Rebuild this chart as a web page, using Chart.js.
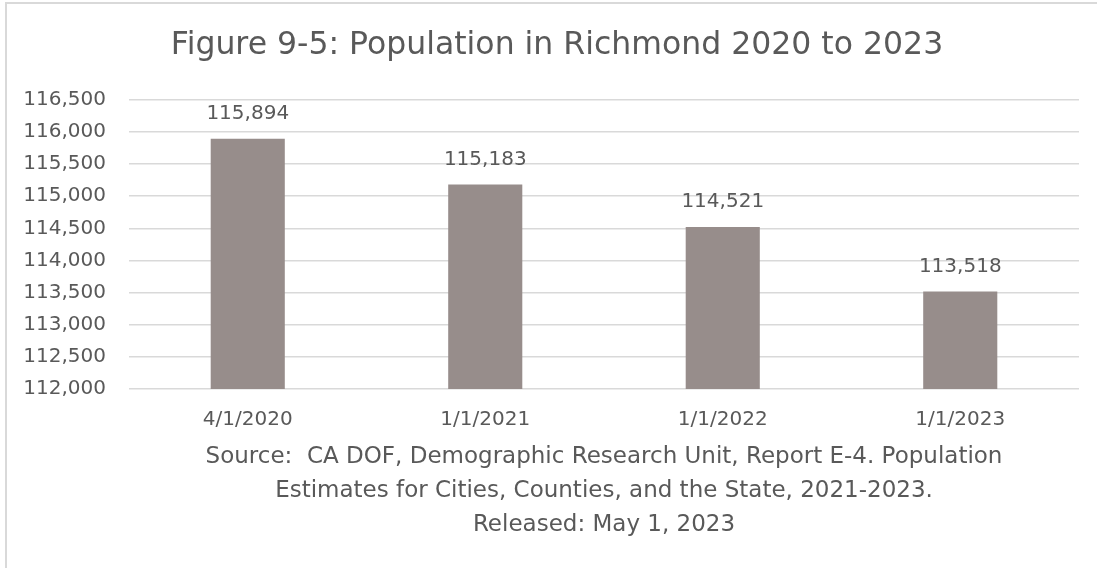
<!DOCTYPE html>
<html>
<head>
<meta charset="utf-8">
<script src="https://cdn.jsdelivr.net/npm/chart.js@4.4.1/dist/chart.umd.min.js"></script>
<style>
    html, body { margin: 0; padding: 0; background: #fff; overflow: hidden; width: 1097px; height: 568px; }
    #frame {
        position: absolute; left: 5px; top: 2px; width: 1092px; height: 566px;
        border-left: 2px solid #d9d9d9; border-top: 2px solid #d9d9d9; box-sizing: border-box;
    }
    /* chart object is a little wider than the visible window */
    #clip { position: absolute; left: 0; top: 0; width: 1097px; height: 568px; overflow: hidden; }
    #wrap { position: absolute; left: 0; top: 0; width: 1132px; height: 568px; }
</style>
</head>
<body>
<div id="frame"></div>
<div id="clip"><div id="wrap"><canvas id="chart"></canvas></div></div>
<script>
// Population figures (CA DOF, Report E-4)
const dates = ['4/1/2020', '1/1/2021', '1/1/2022', '1/1/2023'];
const population = [115894, 115183, 114521, 113518];

const yMin = 112000;
const yMax = 116500;
const yStep = 500;

const titleText = 'Figure 9-5: Population in Richmond 2020 to 2023';
const sourceLines = [
    'Source:  CA DOF, Demographic Research Unit, Report E-4. Population',
    'Estimates for Cities, Counties, and the State, 2021-2023.',
    'Released: May 1, 2023'
];

const textColor = '#595959';
const fontFamily = "'DejaVu Sans', sans-serif";

const fmt = v => Number(v).toLocaleString('en-US');

// Value labels above each bar
const barLabels = {
    id: 'barLabels',
    afterDatasetsDraw(chart) {
        const ctx = chart.ctx;
        const meta = chart.getDatasetMeta(0);
        ctx.save();
        ctx.font = `20px ${fontFamily}`;
        ctx.fillStyle = textColor;
        ctx.textAlign = 'center';
        ctx.textBaseline = 'middle';
        meta.data.forEach((bar, i) => {
            ctx.fillText(fmt(population[i]), bar.x, bar.y - 25);
        });
        ctx.restore();
    }
};

new Chart(document.getElementById('chart'), {
    type: 'bar',
    data: {
        labels: dates,
        datasets: [{
            data: population,
            backgroundColor: '#978d8b',
            borderWidth: 0,
            categoryPercentage: 1,
            barPercentage: 0.312
        }]
    },
    options: {
        responsive: true,
        maintainAspectRatio: false,
        animation: false,
        layout: { padding: { left: 0, right: 18, top: 0, bottom: 26 } },
        plugins: {
            legend: { display: false },
            tooltip: { enabled: false },
            title: {
                display: true,
                text: titleText,
                color: textColor,
                font: { family: fontFamily, size: 31.5, weight: 'normal', lineHeight: 1.2 },
                padding: { top: 27, bottom: 35 }
            }
        },
        scales: {
            x: {
                grid: { display: false, drawTicks: false },
                border: { display: false },
                ticks: {
                    color: textColor,
                    padding: 19,
                    font: { family: fontFamily, size: 20 }
                },
                title: {
                    display: true,
                    text: sourceLines,
                    color: textColor,
                    font: { family: fontFamily, size: 23, lineHeight: '34px' },
                    padding: { top: 7, bottom: 0 }
                },
                afterFit: s => { s.height = 153; }
            },
            y: {
                min: yMin,
                max: yMax,
                grid: { color: '#d9d9d9', lineWidth: 1.5, drawTicks: false },
                border: { display: false },
                ticks: {
                    stepSize: yStep,
                    color: textColor,
                    padding: 23,
                    font: { family: fontFamily, size: 20 },
                    callback: v => fmt(v)
                },
                afterFit: s => { s.width = 129; }
            },
            // empty right-hand margin of the chart object
            yRight: {
                position: 'right',
                min: yMin,
                max: yMax,
                grid: { display: false, drawTicks: false },
                border: { display: false },
                ticks: { display: false },
                afterFit: s => { s.width = 35; }
            }
        }
    },
    plugins: [barLabels]
});
</script>
</body>
</html>
